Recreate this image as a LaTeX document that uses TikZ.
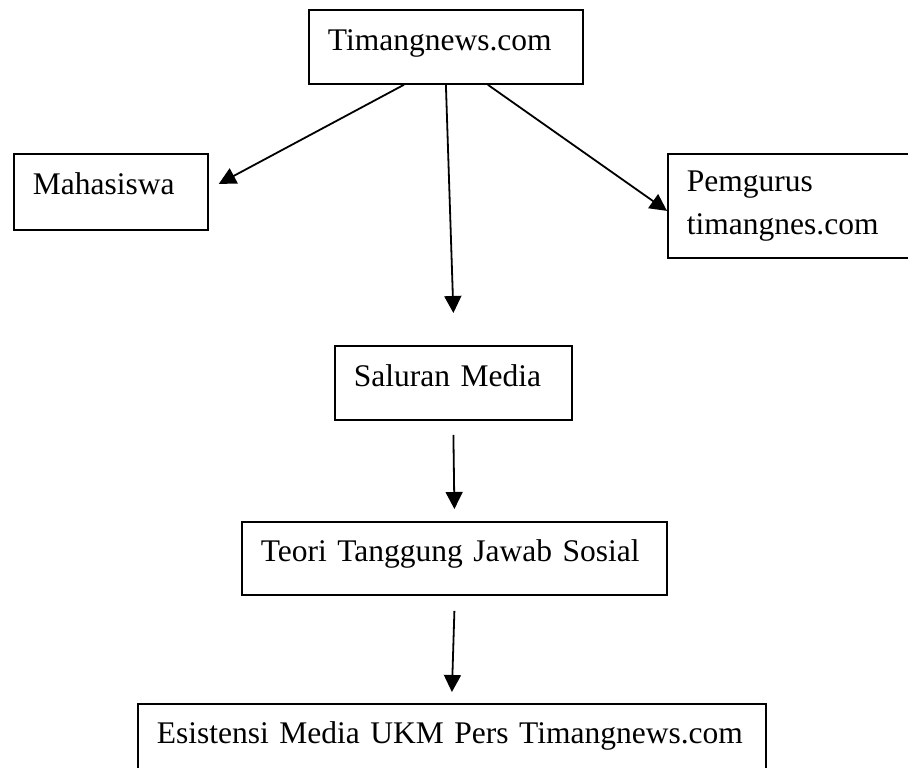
\documentclass[tikz,border=0pt]{standalone}
\usepackage{fontspec}
\setmainfont{Liberation Serif}
\usetikzlibrary{arrows.meta}

\begin{document}
\begin{tikzpicture}[x=1pt,y=-1pt,
  box/.style={draw=black, line width=1.8pt, anchor=north west, align=left,
    inner xsep=19pt, inner ysep=0pt, text height=22pt,
    font=\fontsize{31.5}{43}\selectfont},
  arr/.style={line width=1.8pt, -{Triangle[length=17pt,width=17pt]}}]
\clip (0,0) rectangle (908,768);
\node [box, text width=236pt, minimum height=74pt, text depth=14pt] (tn) at (308,9) {Timangnews.com};
\node [box, text width=156pt, minimum height=76pt, text depth=17.4pt] (mhs) at (13,153) {Mahasiswa};
\node [box, text width=242pt, minimum height=104pt, text depth=50pt] (pem) at (667,153) {Pemgurus\\timangnes.com};
\node [box, text width=199pt, minimum height=74pt, text depth=14pt] (sal) at (334,345) {Saluran Media};
\node [box, text width=387pt, minimum height=73pt, text depth=15.6pt] (teo) at (241,521) {Teori Tanggung Jawab Sosial};
\node [box, text width=590pt, minimum height=77pt, text depth=19pt] (esi) at (137,703) {\mbox{Esistensi Media UKM Pers Timangnews.com}};

\draw [arr] ([xshift=-42pt]tn.south) -- ([xshift=10pt,yshift=8pt]mhs.east);
\draw [arr] (tn.south) -- ([yshift=32pt]sal.north);
\draw [arr] ([xshift=42pt]tn.south) -- ([yshift=-5pt]pem.west);
\draw [arr] ([yshift=-14pt]sal.south) -- ([yshift=12pt]teo.north);
\draw [arr] ([yshift=-15pt]teo.south) -- ([yshift=11pt]esi.north);
\end{tikzpicture}
\end{document}
